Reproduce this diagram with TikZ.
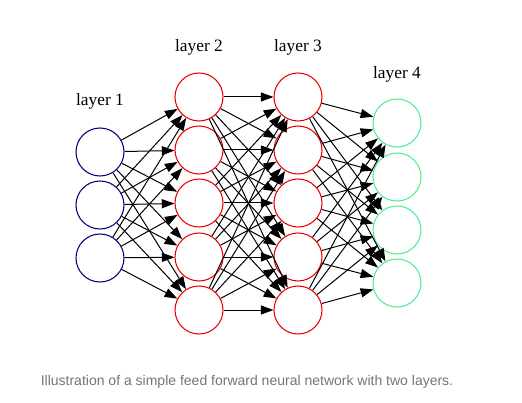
\documentclass[tikz,border=0pt]{standalone}
\usepackage{fontspec}
\setmainfont{Liberation Serif}
\newfontfamily\captionfont{Liberation Sans}
\usetikzlibrary{arrows.meta}

\definecolor{navyline}{RGB}{0,0,128}
\definecolor{redline}{RGB}{238,0,0}
\definecolor{greenline}{RGB}{78,238,148}
\definecolor{captiongray}{RGB}{117,117,117}

\begin{document}
\begin{tikzpicture}[
    x=0.75pt, y=-0.75pt,
    neuron/.style={draw, circle, minimum size=36pt, inner sep=0pt,
        line width=0.8pt},
    layerlabel/.style={font=\fontsize{13}{15}\selectfont, inner sep=0pt},
    arrow/.style={-{Triangle[length=9.5pt, width=6.8pt]}, line width=0.75pt}
]
    \useasboundingbox (0,0) rectangle (522,403);

    % neurons
    \foreach \i/\y in {1/152, 2/205, 3/258}
        \node[neuron, navyline] (input\i) at (100,\y) {};
    \foreach \i/\y in {1/97, 2/150, 3/203, 4/257, 5/310}
        \node[neuron, redline] (first\i) at (199,\y) {};
    \foreach \i/\y in {1/97, 2/150, 3/203, 4/257, 5/310}
        \node[neuron, redline] (second\i) at (298,\y) {};
    \foreach \i/\y in {1/123, 2/177, 3/230, 4/283}
        \node[neuron, greenline] (output\i) at (397,\y) {};

    % connections
    \foreach \a in {1,...,3}
        \foreach \b in {1,...,5}
            \draw[arrow] (input\a) -- (first\b);
    \foreach \a in {1,...,5}
        \foreach \b in {1,...,5}
            \draw[arrow] (first\a) -- (second\b);
    \foreach \a in {1,...,5}
        \foreach \b in {1,...,4}
            \draw[arrow] (second\a) -- (output\b);

    \node[layerlabel] (label1) at (100,101) {layer 1};
    \node[layerlabel] (label2) at (199,47) {layer 2};
    \node[layerlabel] (label3) at (298,47) {layer 3};
    \node[layerlabel] (label4) at (397,74) {layer 4};

    \node[font=\captionfont\fontsize{10.5}{12}\selectfont, text=captiongray,
        inner sep=0pt] (caption) at (247,382)
        {Illustration of a simple feed forward neural network with two layers.};
\end{tikzpicture}
\end{document}
